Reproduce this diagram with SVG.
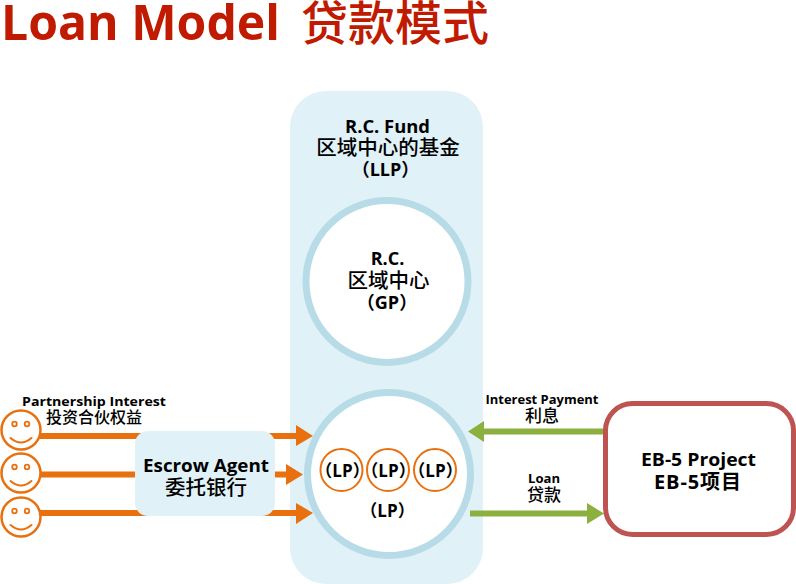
<svg xmlns="http://www.w3.org/2000/svg" width="796" height="584" viewBox="0 0 796 584">
<style>
text{font-family:"Open Sans","Noto Sans CJK SC",sans-serif;font-weight:700;fill:#000;text-anchor:middle}
.cjk{font-family:"Noto Sans CJK SC",sans-serif;font-weight:500}
.title{fill:#c01a00;text-anchor:start;font-size:49px}
.big{font-size:18px}
.lpt{font-size:17px}
.small{font-size:13px}
.ring{fill:#fff;stroke:#b7dce8;stroke-width:7}
.lp{fill:#fff;stroke:#e8700f;stroke-width:2}
.face{fill:#fff;stroke:#e8700f;stroke-width:2.500}
.o{stroke:#e8700f;stroke-width:6;fill:none}
.g{stroke:#8cb03f;stroke-width:6;fill:none}
.oh{fill:#e8700f}
.gh{fill:#8cb03f}
.eye{fill:none;stroke:#e8700f;stroke-width:1.800}
.smile{fill:none;stroke:#e8700f;stroke-width:2;stroke-linecap:round}
</style>
<defs>
<g id="smiley">
<circle class="face" r="19.500"/>
<circle class="eye" cx="-6.500" cy="-6" r="2.300"/>
<circle class="eye" cx="6" cy="-6" r="2.300"/>
<path class="smile" d="M-10.500 8Q0 17 10.500 8"/>
</g>
</defs>
<g id="title">
<text class="title" x="1" y="40" textLength="279" lengthAdjust="spacingAndGlyphs">Loan Model</text>
<text class="cjk" x="301" y="40" style="font-size:47px;fill:#c01a00;text-anchor:start">贷款模式</text>
</g>
<g id="fund">
<rect x="290" y="91" width="193" height="493" rx="36" fill="#e0f2f7"/>
<text class="big" x="387.500" y="132.500" textLength="85" lengthAdjust="spacingAndGlyphs">R.C. Fund</text>
<text class="cjk" x="388" y="155" style="font-size:20.500px">区域中心的基金</text>
<text class="big" x="385.500" y="175.500">（LLP）</text>
</g>
<g id="connectors">
<path class="o" d="M40 436H298M40 474.500H288M40 513H298"/>
<path class="oh" d="M296 425L313 436L296 446ZM286 464L303 474.500L286 485ZM296 503L313 513L296 524Z"/>
<path class="g" d="M604 431.500H482M470 513.500H589"/>
<path class="gh" d="M468 431.500L484 421V442ZM604 513.500L587 503V524Z"/>
</g>
<g id="gp">
<circle class="ring" cx="387" cy="281.500" r="81"/>
<text class="big" x="387.500" y="265">R.C.</text>
<text class="cjk" x="388.500" y="288" style="font-size:20.500px">区域中心</text>
<text class="big" x="387" y="309">（GP）</text>
</g>
<g id="lp-main">
<circle class="ring" cx="389" cy="474" r="81.500"/>
<text class="lpt" x="387.500" y="517">（LP）</text>
</g>
<g id="lp1"><circle class="lp" cx="341.500" cy="470" r="21"/><text class="lpt" x="342.500" y="477">（LP）</text></g>
<g id="lp2"><circle class="lp" cx="388" cy="470" r="21"/><text class="lpt" x="388.500" y="477">（LP）</text></g>
<g id="lp3"><circle class="lp" cx="435" cy="470" r="21"/><text class="lpt" x="435.500" y="477">（LP）</text></g>
<g id="smiley1"><use href="#smiley" x="21" y="430"/></g>
<g id="smiley2"><use href="#smiley" x="21" y="473"/></g>
<g id="smiley3"><use href="#smiley" x="21" y="517"/></g>
<g id="partnership">
<text class="small" x="94" y="406" textLength="144" lengthAdjust="spacingAndGlyphs">Partnership Interest</text>
<text class="cjk" x="94" y="423" style="font-size:16px">投资合伙权益</text>
</g>
<g id="escrow">
<rect x="135" y="431" width="140" height="85" rx="13" fill="#e0f2f7"/>
<text class="big" x="206" y="472" textLength="126" lengthAdjust="spacingAndGlyphs">Escrow Agent</text>
<text class="cjk" x="206" y="495" style="font-size:20.500px">委托银行</text>
</g>
<g id="interest">
<text class="small" x="542" y="404" textLength="113" lengthAdjust="spacingAndGlyphs">Interest Payment</text>
<text class="cjk" x="542" y="422" style="font-size:17px">利息</text>
</g>
<g id="loan">
<text class="small" x="544" y="483" textLength="32" lengthAdjust="spacingAndGlyphs">Loan</text>
<text class="cjk" x="544" y="501" style="font-size:17px">贷款</text>
</g>
<g id="project">
<rect x="605.500" y="403.500" width="188" height="131" rx="27" fill="#fff" stroke="#bd5452" stroke-width="5"/>
<text class="big" x="698.500" y="466" textLength="115" lengthAdjust="spacingAndGlyphs">EB-5 Project</text>
<text class="big" x="697.500" y="489" style="font-size:20px" textLength="87" lengthAdjust="spacing">EB-5项目</text>
</g>
</svg>
